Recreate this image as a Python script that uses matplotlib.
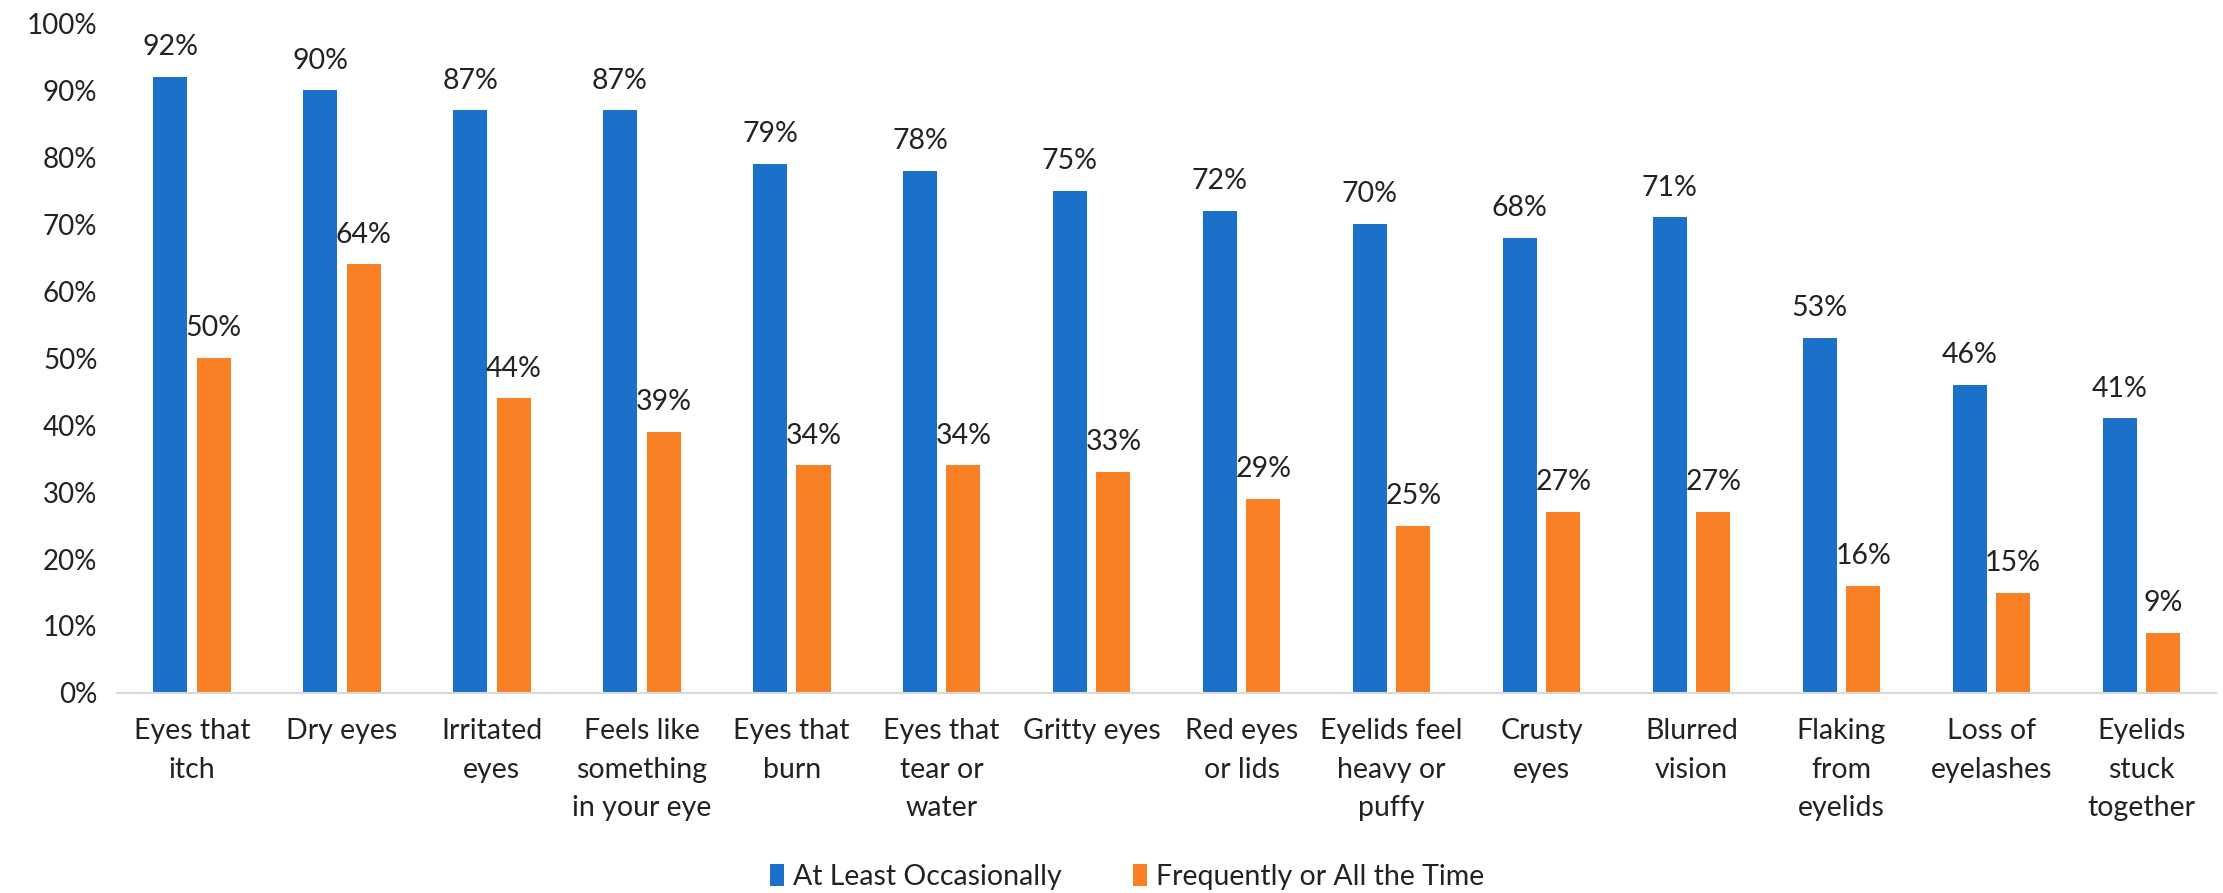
import matplotlib
matplotlib.use("Agg")
import matplotlib.pyplot as plt
import numpy as np

plt.rcParams['font.family'] = ['Lato', 'DejaVu Sans']

## 数据
categories = ["Eyes that\nitch", "Dry eyes", "Irritated\neyes", "Feels like\nsomething\nin your eye",
              "Eyes that\nburn", "Eyes that\ntear or\nwater", "Gritty eyes", "Red eyes\nor lids",
              "Eyelids feel\nheavy or\npuffy", "Crusty\neyes", "Blurred\nvision", "Flaking\nfrom\neyelids",
              "Loss of\neyelashes", "Eyelids\nstuck\ntogether"]
occasionally = [92, 90, 87, 87, 79, 78, 75, 72, 70, 68, 71, 53, 46, 41]
frequently = [50, 64, 44, 39, 34, 34, 33, 29, 25, 27, 27, 16, 15, 9]
series_names = ["At Least Occasionally", "Frequently or All the Time"]
yticks = list(range(0, 101, 10))

## 画布
fig = plt.figure(figsize=(22.23, 8.93), dpi=100)
ax = fig.add_axes([0.0526, 0.224, 0.9444, 0.750])

x = np.arange(len(categories))
w = 0.227
off = 0.145
b1 = ax.bar(x - off, occasionally, width=w, color="#1B71C9", label=series_names[0])
b2 = ax.bar(x + off, frequently, width=w, color="#F98024", label=series_names[1])

## 数据标签
for bars, vals in [(b1, occasionally), (b2, frequently)]:
    for rect, v in zip(bars, vals):
        ax.annotate("{}%".format(v), (rect.get_x() + rect.get_width() / 2, v),
                    xytext=(0, 12), textcoords="offset points",
                    ha="center", va="bottom", fontsize=20.5, color="#222222")

ax.set_xlim(-0.5, len(categories) - 0.5)
ax.set_ylim(0, 100)
ax.set_yticks(yticks)
ax.set_yticklabels(["{}%".format(t) for t in yticks], fontsize=20, color="#222222")
ax.set_xticks(x)
ax.set_xticklabels(categories, fontsize=20.5, color="#222222", linespacing=1.6)
ax.tick_params(axis="both", length=0)
ax.tick_params(axis="x", pad=18)
ax.tick_params(axis="y", pad=14)

for s in ["top", "right", "left"]:
    ax.spines[s].set_visible(False)
ax.spines["bottom"].set_color("#D9D9D9")
ax.spines["bottom"].set_linewidth(1.5)

## 图例
fig.legend(loc="center", bbox_to_anchor=(0.507, 0.018), ncol=2, frameon=False,
           fontsize=20.5, handlelength=0.5, handleheight=0.8, handletextpad=0.3,
           columnspacing=2.5, labelcolor="#222222")

fig.savefig("out.png", dpi=100)
